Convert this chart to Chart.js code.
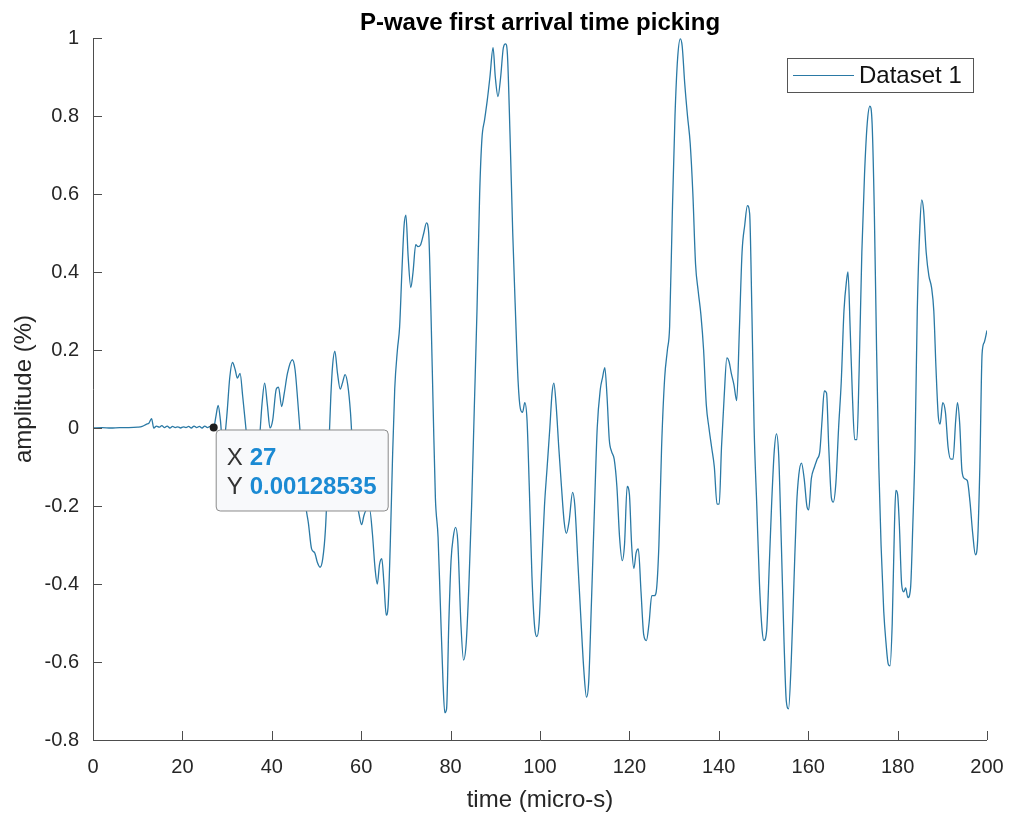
<!DOCTYPE html>
<html>
<head>
<meta charset="utf-8">
<title>P-wave first arrival time picking</title>
<script src="https://cdn.jsdelivr.net/npm/chart.js@4.4.0/dist/chart.umd.min.js"></script>
<style>
  html, body { margin: 0; padding: 0; background: #ffffff; }
  #wrap { width: 1013px; height: 818px; }
</style>
</head>
<body>
<div id="wrap"><canvas id="chart" width="1013" height="818"></canvas></div>
<script>
// ── data ──
const timeUs = [
  0, 2, 4, 6, 8, 10, 11, 12, 12.5, 13.1, 13.6, 14.2, 14.8, 15.4, 16, 16.6, 17.2, 17.8, 18.4, 19,
  19.6, 20.2, 20.8, 21.4, 22, 22.6, 23.2, 23.8, 24.4, 25, 25.6, 26.2, 27, 27.5, 28, 28.5, 29, 29.5, 30, 30.6,
  31.2, 31.8, 32.3, 32.9, 33.5, 34.2, 35, 35.8, 36.6, 37.3, 37.8, 38.4, 39, 39.6, 40.2, 41, 41.5, 42.2, 42.8, 43.5,
  44.6, 45.2, 45.8, 46.4, 47, 47.6, 48.2, 48.9, 49.6, 50.2, 50.8, 51.4, 52, 52.6, 53.2, 53.6, 54.1, 54.7, 55.3, 55.8,
  56.4, 57, 57.6, 58.2, 58.9, 59.5, 60.1, 60.6, 61.2, 61.9, 62.5, 63.1, 63.6, 64.1, 64.6, 65.1, 65.6, 66, 66.5, 67,
  67.5, 68.1, 68.6, 69.1, 69.6, 70, 70.5, 71.1, 71.6, 72.2, 72.7, 73.3, 74, 74.6, 75.1, 75.6, 76.1, 76.6, 77.2, 77.7,
  78.3, 78.7, 79.1, 79.6, 80.1, 80.6, 81.1, 81.6, 82.3, 82.9, 83.5, 84.1, 84.7, 85.3, 85.9, 86.5, 87, 87.6, 88.2, 88.8,
  89.5, 90, 90.6, 91.2, 91.8, 92.3, 92.7, 93.3, 93.9, 94.5, 95.1, 95.6, 96.1, 96.6, 97.1, 97.6, 98.2, 98.8, 99.3, 99.8,
  100.4, 101, 101.6, 102.2, 102.7, 103.1, 103.6, 104.2, 104.8, 105.4, 105.9, 106.5, 107.3, 107.8, 108.5, 109.2, 109.8, 110.4, 110.9, 111.5,
  112.2, 112.8, 113.5, 114, 114.5, 115, 115.5, 116, 116.6, 117.2, 117.8, 118.4, 118.9, 119.5, 120, 120.5, 121, 121.5, 122, 122.6,
  123.2, 123.8, 124.4, 125, 125.6, 126, 126.6, 127.2, 127.9, 128.5, 129, 129.6, 130.2, 130.8, 131.4, 131.8, 132.4, 133, 133.6, 134.2,
  134.8, 135.4, 136, 136.6, 137.2, 137.8, 138.4, 139, 139.6, 140.1, 140.6, 141.2, 141.8, 142.3, 142.8, 143.4, 144, 144.6, 145.2, 145.8,
  146.4, 146.9, 147.4, 147.9, 148.5, 149.1, 149.7, 150.1, 150.7, 151.3, 151.8, 152.4, 152.9, 153.4, 154, 154.6, 155.1, 155.6, 156.2, 156.8,
  157.4, 157.9, 158.5, 159.1, 159.7, 160.1, 160.7, 161.4, 162, 162.6, 163.1, 163.6, 164.1, 164.6, 165.2, 165.6, 166.2, 166.8, 167.4, 168,
  168.6, 168.9, 169.4, 169.9, 170.4, 170.9, 171.4, 172, 172.6, 173.2, 173.8, 174.3, 174.8, 175.3, 175.8, 176.3, 176.9, 177.4, 177.9, 178.3,
  178.8, 179.3, 179.6, 180, 180.4, 180.9, 181.4, 181.8, 182.3, 182.9, 183.4, 183.9, 184.4, 185, 185.4, 185.8, 186.4, 187, 187.6, 188.1,
  188.6, 189.1, 189.5, 190.1, 190.7, 191.3, 191.9, 192.4, 193, 193.4, 193.9, 194.4, 195, 195.6, 196.2, 196.8, 197.4, 197.9, 198.4, 198.9,
  199.4, 200
];
const amplitude = [
  0, 0.001, 0, 0.001, 0.001, 0.002, 0.004, 0.01, 0.012, 0.024, 0, 0.005, 0.002, 0.006, 0.001, 0.005, 0, 0.004, 0.001, 0.003,
  0, 0.003, 0.001, 0.004, 0, 0.005, 0.001, 0.004, 0, 0.005, 0.001, 0.004, 0.00128535, 0.03, 0.058, 0.02, -0.04, -0.02, 0.04, 0.13,
  0.168, 0.15, 0.128, 0.14, 0.08, 0, -0.09, -0.13, -0.1, -0.02, 0.06, 0.115, 0.06, 0, 0.02, 0.1, 0.105, 0.055, 0.09, 0.14,
  0.175, 0.15, 0.07, -0.02, -0.12, -0.2, -0.245, -0.31, -0.32, -0.345, -0.357, -0.335, -0.26, -0.1, 0.08, 0.16, 0.197, 0.14, 0.1, 0.115,
  0.137, 0.11, 0.04, -0.08, -0.18, -0.22, -0.248, -0.225, -0.21, -0.21, -0.27, -0.36, -0.4, -0.35, -0.335, -0.4, -0.48, -0.46, -0.3, -0.08,
  0.1, 0.2, 0.26, 0.4, 0.52, 0.546, 0.44, 0.36, 0.4, 0.47, 0.465, 0.47, 0.5, 0.526, 0.5, 0.3, 0.05, -0.18, -0.28, -0.45,
  -0.65, -0.73, -0.72, -0.5, -0.34, -0.28, -0.255, -0.29, -0.5, -0.595, -0.55, -0.4, -0.2, 0.05, 0.3, 0.6, 0.74, 0.79, 0.84, 0.9,
  0.975, 0.9, 0.85, 0.9, 0.975, 0.985, 0.96, 0.75, 0.5, 0.3, 0.12, 0.05, 0.04, 0.065, 0.02, -0.15, -0.38, -0.51, -0.535, -0.5,
  -0.35, -0.2, -0.1, 0, 0.09, 0.115, 0.06, -0.05, -0.15, -0.24, -0.27, -0.24, -0.165, -0.2, -0.35, -0.5, -0.62, -0.69, -0.65, -0.45,
  -0.2, 0, 0.1, 0.13, 0.155, 0.08, -0.03, -0.06, -0.08, -0.15, -0.28, -0.34, -0.3, -0.15, -0.17, -0.3, -0.36, -0.32, -0.31, -0.42,
  -0.53, -0.545, -0.5, -0.43, -0.43, -0.42, -0.3, -0.05, 0.13, 0.2, 0.26, 0.55, 0.8, 0.95, 0.998, 0.98, 0.88, 0.8, 0.73, 0.6,
  0.42, 0.35, 0.29, 0.2, 0.06, 0, -0.05, -0.1, -0.195, -0.195, -0.05, 0.08, 0.18, 0.17, 0.14, 0.11, 0.07, 0.25, 0.45, 0.52,
  0.57, 0.55, 0.3, 0, -0.2, -0.4, -0.52, -0.545, -0.52, -0.35, -0.2, -0.06, -0.015, -0.07, -0.3, -0.55, -0.7, -0.72, -0.6, -0.4,
  -0.2, -0.12, -0.09, -0.13, -0.2, -0.21, -0.13, -0.1, -0.08, -0.06, 0.02, 0.095, 0.09, -0.05, -0.18, -0.19, -0.14, 0, 0.12, 0.3,
  0.38, 0.4, 0.25, 0.08, -0.03, -0.03, 0.15, 0.45, 0.65, 0.78, 0.825, 0.78, 0.55, 0.2, -0.1, -0.3, -0.47, -0.55, -0.605, -0.61,
  -0.5, -0.25, -0.16, -0.17, -0.25, -0.4, -0.42, -0.41, -0.435, -0.41, -0.25, -0.05, 0.3, 0.52, 0.585, 0.56, 0.45, 0.39, 0.36, 0.3,
  0.15, 0.03, 0.01, 0.065, 0.04, -0.05, -0.08, -0.08, 0.02, 0.065, 0.01, -0.11, -0.13, -0.135, -0.19, -0.27, -0.325, -0.29, -0.1, 0.19,
  0.22, 0.25
];
const xTickValues = [0, 20, 40, 60, 80, 100, 120, 140, 160, 180, 200];
const yTickValues = [-0.8, -0.6, -0.4, -0.2, 0, 0.2, 0.4, 0.6, 0.8, 1];
const yTickLabels = ['-0.8', '-0.6', '-0.4', '-0.2', '0', '0.2', '0.4', '0.6', '0.8', '1'];
const seriesName = 'Dataset 1';
const tipX = 27;
const tipY = 0.00128535;

const lineColor = '#2a79a5';
const inkColor = '#262626';
const fontFamily = "Arial, 'Liberation Sans', Helvetica, sans-serif";

const points = timeUs.map((t, i) => ({ x: t, y: amplitude[i] }));

// ── ejes estilo MATLAB: líneas izquierda/abajo con ticks hacia dentro ──
const axesPlugin = {
  id: 'matlabAxes',
  afterDatasetsDraw(chart) {
    const { ctx, chartArea: { left, top, right, bottom }, scales: { x, y } } = chart;
    ctx.save();
    ctx.strokeStyle = '#4d4d4d';
    ctx.lineWidth = 1;
    ctx.beginPath();
    ctx.moveTo(left + 0.5, top);
    ctx.lineTo(left + 0.5, bottom + 0.5);
    ctx.lineTo(right, bottom + 0.5);
    xTickValues.forEach(v => {
      const px = Math.round(x.getPixelForValue(v)) + 0.5;
      ctx.moveTo(px, bottom);
      ctx.lineTo(px, bottom - 9);
    });
    yTickValues.forEach(v => {
      const py = Math.round(y.getPixelForValue(v)) + 0.5;
      ctx.moveTo(left, py);
      ctx.lineTo(left + 9, py);
    });
    ctx.stroke();
    ctx.restore();
  }
};

// ── datatip (X / Y) sobre la curva ──
const datatipPlugin = {
  id: 'datatip',
  afterDatasetsDraw(chart) {
    const { ctx, scales: { x, y } } = chart;
    const px = x.getPixelForValue(tipX);
    const py = y.getPixelForValue(tipY);
    const bx = px + 2, by = py + 2, bw = 172, bh = 81, r = 4;

    ctx.save();
    ctx.beginPath();
    ctx.roundRect(bx + 0.5, by + 0.5, bw, bh, r);
    ctx.fillStyle = '#f8f9fb';
    ctx.fill();
    ctx.strokeStyle = '#8a8a8a';
    ctx.lineWidth = 1;
    ctx.stroke();

    ctx.textBaseline = 'alphabetic';
    ctx.textAlign = 'left';
    ctx.font = '24px ' + fontFamily;
    ctx.fillStyle = '#333333';
    ctx.fillText('X', bx + 11, by + 36);
    ctx.fillText('Y', bx + 11, by + 65);
    ctx.font = 'bold 24px ' + fontFamily;
    ctx.fillStyle = '#1b8ad3';
    ctx.fillText(String(tipX), bx + 34, by + 36);
    ctx.fillText(String(tipY), bx + 34, by + 65);

    // marcador del punto
    ctx.beginPath();
    ctx.arc(px, py, 4, 0, Math.PI * 2);
    ctx.fillStyle = '#1e1e1e';
    ctx.fill();
    ctx.restore();
  }
};

// ── leyenda dentro del área, esquina superior derecha ──
const legendPlugin = {
  id: 'boxLegend',
  afterDatasetsDraw(chart) {
    const { ctx, chartArea: { top, right } } = chart;
    const w = 186, h = 34;
    const lx = right - 14 - w, ly = top + 20;
    ctx.save();
    ctx.fillStyle = '#ffffff';
    ctx.fillRect(lx, ly, w, h);
    ctx.strokeStyle = '#555555';
    ctx.lineWidth = 1;
    ctx.strokeRect(lx + 0.5, ly + 0.5, w, h);
    ctx.beginPath();
    ctx.moveTo(lx + 6, ly + 17.5);
    ctx.lineTo(lx + 67, ly + 17.5);
    ctx.strokeStyle = lineColor;
    ctx.lineWidth = 1.2;
    ctx.stroke();
    ctx.font = '24px ' + fontFamily;
    ctx.fillStyle = '#111111';
    ctx.textBaseline = 'alphabetic';
    ctx.fillText(seriesName, lx + 72, ly + 25);
    ctx.restore();
  }
};

new Chart(document.getElementById('chart'), {
  type: 'scatter',
  data: {
    datasets: [{
      label: seriesName,
      data: points,
      showLine: true,
      borderColor: lineColor,
      borderWidth: 1.3,
      pointRadius: 0,
      cubicInterpolationMode: 'monotone'
    }]
  },
  options: {
    responsive: false,
    animation: false,
    devicePixelRatio: 1,
    layout: { padding: { top: 0, right: 26, bottom: 0, left: 0 } },
    plugins: {
      legend: { display: false },
      tooltip: { enabled: false },
      title: {
        display: true,
        text: 'P-wave first arrival time picking',
        fullSize: false,
        color: '#000000',
        font: { family: fontFamily, size: 24, weight: 'bold' },
        padding: { top: 9, bottom: 0.2 }
      }
    },
    scales: {
      x: {
        type: 'linear',
        min: 0,
        max: 200,
        grid: { display: false },
        border: { display: false },
        afterBuildTicks: s => { s.ticks = xTickValues.map(v => ({ value: v })); },
        afterFit: s => { s.height = 78; },
        ticks: {
          color: inkColor,
          padding: 7,
          maxRotation: 0,
          font: { family: fontFamily, size: 20 }
        },
        title: {
          display: true,
          text: 'time (micro-s)',
          color: inkColor,
          font: { family: fontFamily, size: 24 },
          padding: { top: 0, bottom: 3 }
        }
      },
      y: {
        type: 'linear',
        min: -0.8,
        max: 1,
        grid: { display: false },
        border: { display: false },
        afterBuildTicks: s => { s.ticks = yTickValues.map(v => ({ value: v })); },
        afterFit: s => { s.width = 93; },
        ticks: {
          color: inkColor,
          padding: 6,
          font: { family: fontFamily, size: 20 },
          callback: (value, index) => yTickLabels[index]
        },
        title: {
          display: true,
          text: 'amplitude (%)',
          color: inkColor,
          font: { family: fontFamily, size: 24 },
          padding: { top: 10, bottom: 0 }
        }
      }
    }
  },
  plugins: [axesPlugin, datatipPlugin, legendPlugin]
});
</script>
</body>
</html>
